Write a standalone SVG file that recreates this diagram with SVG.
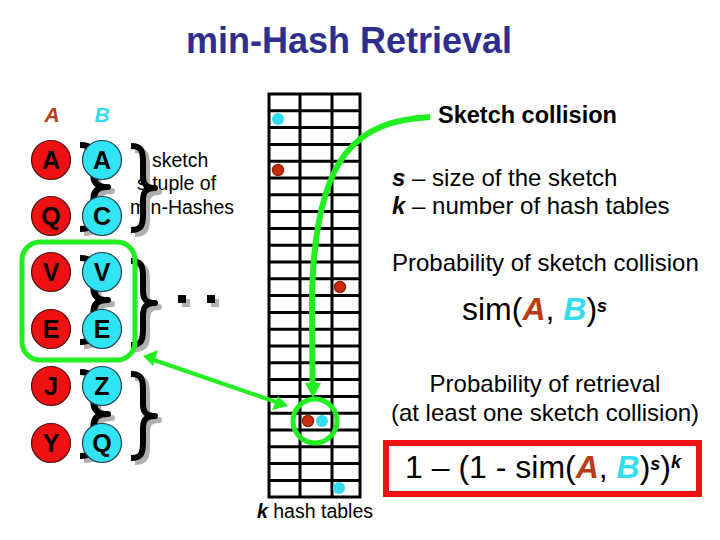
<svg xmlns="http://www.w3.org/2000/svg" width="720" height="540" viewBox="0 0 720 540">
<style>
.t{font-family:"Liberation Sans",Arial,sans-serif;fill:#000}
.lt{font-family:"Liberation Sans",Arial,sans-serif;font-weight:bold;font-size:25px;fill:#000;text-anchor:middle}
.rc{fill:#ee1111;stroke:#551111;stroke-width:1.2}
.cc{fill:#30e4f4;stroke:#224455;stroke-width:1.2}
.br{fill:none;stroke:#000;stroke-width:6;stroke-linejoin:round}
.bs{fill:none;stroke:#b0b0b0;stroke-width:6;stroke-linejoin:round}
.gl{fill:none;stroke:#000;stroke-width:3}
.grn{fill:none;stroke:#22ee22;stroke-width:5}
.ca{fill:#b83c14;font-style:italic;font-weight:bold}
.cb{fill:#33ddee;font-style:italic;font-weight:bold}
.rd{fill:#cc2a10;stroke:#992200;stroke-width:1.5}
.cd{fill:#33ddee}
</style>
<defs>
<path id="brace" d="M0,0 C10,0 12,4 12,16 L12,30 C12,38 15,42 24,42 C15,42 12,46 12,54 L12,68 C12,80 10,84 0,84"/>
</defs>
<rect width="720" height="540" fill="#fff"/>

<text class="t" x="349" y="53" font-size="36" font-weight="bold" text-anchor="middle" style="fill:#2e2e8c">min-Hash Retrieval</text>

<text class="t ca" x="52" y="122" font-size="21" text-anchor="middle">A</text>
<text class="t cb" x="102" y="122" font-size="21" text-anchor="middle">B</text>

<!-- side labels -->
<g id="sketch-label">
<text class="t" font-size="19.5"><tspan x="152" y="167">sketch</tspan><tspan x="137" y="190">s tuple of</tspan><tspan x="130" y="214">min-Hashes</tspan></text>
</g>

<!-- small braces behind pairs -->
<g id="pair-braces">
<use href="#brace" class="bs" transform="translate(84,149) scale(1.15,1)"/>
<use href="#brace" class="br" transform="translate(80,145) scale(1.15,1)"/>
<use href="#brace" class="bs" transform="translate(84,262) scale(1.15,1)"/>
<use href="#brace" class="br" transform="translate(80,258) scale(1.15,1)"/>
<use href="#brace" class="bs" transform="translate(84,376) scale(1.15,1)"/>
<use href="#brace" class="br" transform="translate(80,372) scale(1.15,1)"/>
</g>

<g id="row-A"><circle class="rc" cx="51" cy="160" r="19.5"/><text class="lt" x="51" y="169">A</text><circle class="cc" cx="102" cy="160" r="19.5"/><text class="lt" x="102" y="169">A</text></g>
<g id="row-Q"><circle class="rc" cx="51" cy="216" r="19.5"/><text class="lt" x="51" y="225">Q</text><circle class="cc" cx="102" cy="216" r="19.5"/><text class="lt" x="102" y="225">C</text></g>
<g id="row-V"><circle class="rc" cx="51" cy="272" r="19.5"/><text class="lt" x="51" y="281">V</text><circle class="cc" cx="102" cy="272" r="19.5"/><text class="lt" x="102" y="281">V</text></g>
<g id="row-E"><circle class="rc" cx="51" cy="329" r="19.5"/><text class="lt" x="51" y="338">E</text><circle class="cc" cx="102" cy="329" r="19.5"/><text class="lt" x="102" y="338">E</text></g>
<g id="row-J"><circle class="rc" cx="51" cy="386" r="19.5"/><text class="lt" x="51" y="395">J</text><circle class="cc" cx="102" cy="386" r="19.5"/><text class="lt" x="102" y="395">Z</text></g>
<g id="row-Y"><circle class="rc" cx="51" cy="443" r="19.5"/><text class="lt" x="51" y="452">Y</text><circle class="cc" cx="102" cy="443" r="19.5"/><text class="lt" x="102" y="452">Q</text></g>

<!-- big braces -->
<g id="big-braces">
<use href="#brace" class="bs" transform="translate(135,150)"/>
<use href="#brace" class="br" transform="translate(131,146)"/>
<use href="#brace" class="bs" transform="translate(135,265)"/>
<use href="#brace" class="br" transform="translate(131,261)"/>
<use href="#brace" class="bs" transform="translate(135,378)"/>
<use href="#brace" class="br" transform="translate(131,374)"/>
</g>

<g id="dots">
<rect x="182" y="299" width="8" height="8" fill="#b0b0b0"/>
<rect x="178" y="295" width="8" height="8" fill="#000"/>
<rect x="211" y="299" width="8" height="8" fill="#b0b0b0"/>
<rect x="207" y="295" width="8" height="8" fill="#000"/>
</g>

<rect id="selected-pair" x="22" y="242" width="113" height="118" rx="18" class="grn"/>

<!-- hash tables grid -->
<g id="hash-tables">
<rect x="269" y="94" width="91" height="403" class="gl"/>
<path class="gl" d="M300,94V497M332,94V497
M269,110.8H360M269,127.6H360M269,144.4H360M269,161.2H360M269,178H360M269,194.8H360M269,211.6H360M269,228.4H360M269,245.2H360M269,262H360M269,278.8H360M269,295.6H360M269,312.4H360M269,329.2H360M269,346H360M269,362.8H360M269,379.6H360M269,396.4H360M269,413.2H360M269,430H360M269,446.8H360M269,463.6H360M269,480.4H360"/>
<circle class="cd" cx="278" cy="119" r="6"/>
<circle class="rd" cx="278" cy="170" r="5.5"/>
<circle class="rd" cx="340" cy="287" r="5.5"/>
<circle class="rd" cx="308" cy="421" r="5.5"/>
<circle class="cd" cx="322" cy="421" r="6"/>
<circle class="cd" cx="339" cy="488" r="6"/>
</g>
<text class="t" x="315" y="518" font-size="19.5" text-anchor="middle"><tspan font-weight="bold" font-style="italic">k</tspan> hash tables</text>

<!-- connectors -->
<g id="connectors">
<path d="M430,117 C360,121 314,150 312,300 L312.5,386" fill="none" stroke="#22ee22" stroke-width="6"/>
<path d="M305,383 L321,383 L313,398 Z" fill="#22ee22"/>
<line x1="151" y1="359" x2="279" y2="403" stroke="#22ee22" stroke-width="4"/>
<path d="M143,356 L158,350 L153,366 Z" fill="#22ee22"/>
<path d="M288,406 L272,410 L278,396 Z" fill="#22ee22"/>
<circle cx="315" cy="421" r="22" fill="none" stroke="#22ee22" stroke-width="5"/>
</g>

<!-- right text -->
<text class="t" x="438" y="123" font-size="23.5" font-weight="bold">Sketch collision</text>
<text class="t" x="392" y="186" font-size="24"><tspan font-weight="bold" font-style="italic">s</tspan> – size of the sketch</text>
<text class="t" x="392" y="214" font-size="24"><tspan font-weight="bold" font-style="italic">k</tspan> – number of hash tables</text>
<text class="t" x="392" y="271" font-size="24">Probability of sketch collision</text>
<text class="t" x="462" y="320" font-size="32">sim(<tspan class="ca">A</tspan>, <tspan class="cb">B</tspan>)<tspan font-size="18" font-weight="bold" font-style="italic" dy="-8">s</tspan></text>
<text class="t" x="545" y="392" font-size="24" text-anchor="middle">Probability of retrieval</text>
<text class="t" x="545" y="421" font-size="24" text-anchor="middle">(at least one sketch collision)</text>
<rect id="formula-box" x="386" y="443" width="313" height="51" fill="none" stroke="#ee1111" stroke-width="6"/>
<text class="t" x="405" y="478" font-size="32">1 – (1 - sim(<tspan class="ca">A</tspan>, <tspan class="cb">B</tspan>)<tspan font-size="18" font-weight="bold" font-style="italic" dy="-8">s</tspan><tspan dy="8">)</tspan><tspan font-size="18" font-weight="bold" font-style="italic" dy="-10">k</tspan></text>
</svg>
